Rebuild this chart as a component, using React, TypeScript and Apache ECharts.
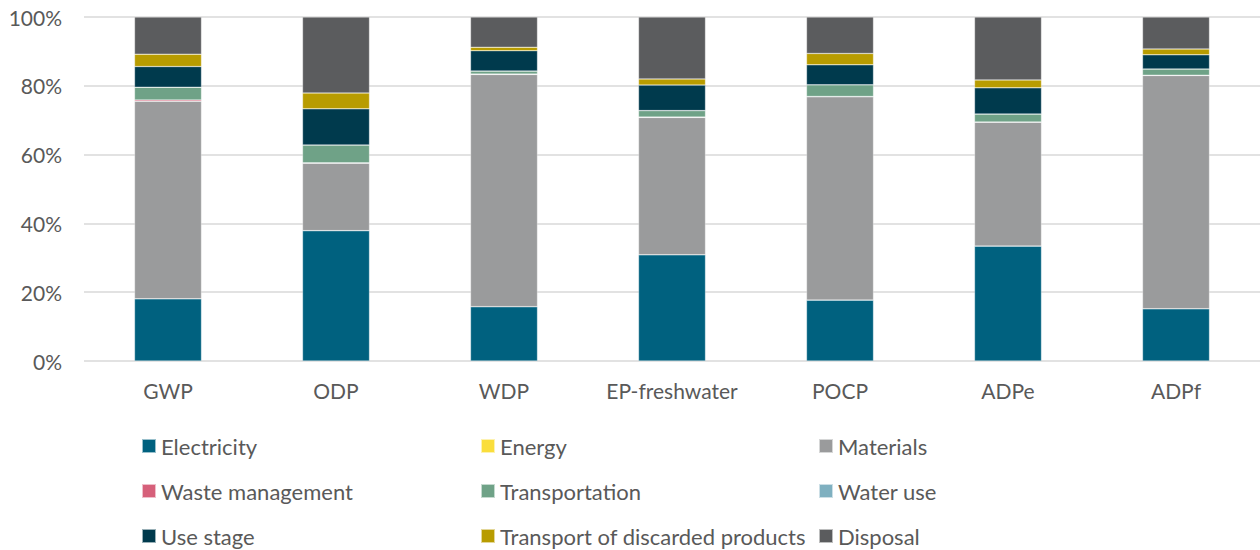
import React, { useEffect, useRef } from "react";
import * as echarts from "echarts";

const categories = ["GWP", "ODP", "WDP", "EP-freshwater", "POCP", "ADPe", "ADPf"];
const seriesNames = [
  "Electricity",
  "Energy",
  "Materials",
  "Waste management",
  "Transportation",
  "Water use",
  "Use stage",
  "Transport of discarded products",
  "Disposal",
];
const electricity = [18.1, 37.9, 15.8, 30.9, 17.7, 33.4, 15.2];
const energy = [0, 0, 0, 0, 0, 0, 0];
const materials = [57.4, 19.6, 67.5, 39.9, 59.1, 36.0, 67.8];
const wasteManagement = [0.4, 0.1, 0.1, 0.1, 0.1, 0.1, 0.1];
const transportation = [3.7, 5.2, 0.9, 1.9, 3.4, 2.3, 1.8];
const waterUse = [0, 0, 0, 0, 0, 0, 0];
const useStage = [6.0, 10.5, 5.9, 7.4, 5.8, 7.6, 4.1];
const transportDiscarded = [3.6, 4.6, 1.0, 1.8, 3.3, 2.3, 1.7];
const disposal = [10.8, 22.1, 8.8, 18.0, 10.6, 18.3, 9.3];
const yTicks = [0, 20, 40, 60, 80, 100];

const seriesData = [
  electricity,
  energy,
  materials,
  wasteManagement,
  transportation,
  waterUse,
  useStage,
  transportDiscarded,
  disposal,
];
const colors = [
  "#00617F",
  "#FADE3C",
  "#9A9B9C",
  "#D6607A",
  "#6FA287",
  "#7FB0C0",
  "#003A4D",
  "#B89C00",
  "#5B5C5E",
];

const FONT = "Lato";
const TEXT = "#595959";

export default function App() {
  const ref = useRef<HTMLDivElement>(null);
  useEffect(() => {
    if (!ref.current) return;
    const chart = echarts.init(ref.current, undefined, { renderer: "svg" });
    const legendCol = (names: string[], left: number) => ({
      orient: "vertical",
      left,
      top: 434,
      height: 120,
      padding: 0,
      itemWidth: 14,
      itemHeight: 14,
      itemGap: 21,
      icon: "rect",
      data: names,
      selectedMode: false,
      textStyle: { fontFamily: FONT, fontSize: 22, color: TEXT, lineHeight: 24 },
    });
    chart.setOption({
      animation: false,
      color: colors,
      textStyle: { fontFamily: FONT },
      grid: { left: 84, right: 0, top: 17, bottom: 189, containLabel: false },
      legend: [
        legendCol([seriesNames[0], seriesNames[3], seriesNames[6]], 141),
        legendCol([seriesNames[1], seriesNames[4], seriesNames[7]], 480),
        legendCol([seriesNames[2], seriesNames[5], seriesNames[8]], 818),
      ],
      xAxis: {
        type: "category",
        data: categories,
        axisLine: { show: false },
        axisTick: { show: false },
        axisLabel: { fontFamily: FONT, fontSize: 21, color: TEXT, margin: 19, interval: 0 },
      },
      yAxis: {
        type: "value",
        min: yTicks[0],
        max: yTicks[yTicks.length - 1],
        interval: 20,
        axisLine: { show: false },
        axisTick: { show: false },
        axisLabel: {
          formatter: "{value}%",
          fontFamily: FONT,
          fontSize: 21,
          color: TEXT,
          margin: 22,
        },
        splitLine: { lineStyle: { color: "#D9D9D9", width: 1.5 } },
      },
      series: seriesNames.map((name, i) => ({
        name,
        type: "bar",
        stack: "total",
        barWidth: 67,
        data: seriesData[i],
        itemStyle: { color: colors[i], borderColor: "rgba(255,255,255,0.6)", borderWidth: 0.5 },
      })),
    });
    return () => chart.dispose();
  }, []);
  return (
    <div
      ref={ref}
      style={{ position: "absolute", left: 0, top: 0, width: 1260, height: 550, background: "#fff" }}
    />
  );
}
